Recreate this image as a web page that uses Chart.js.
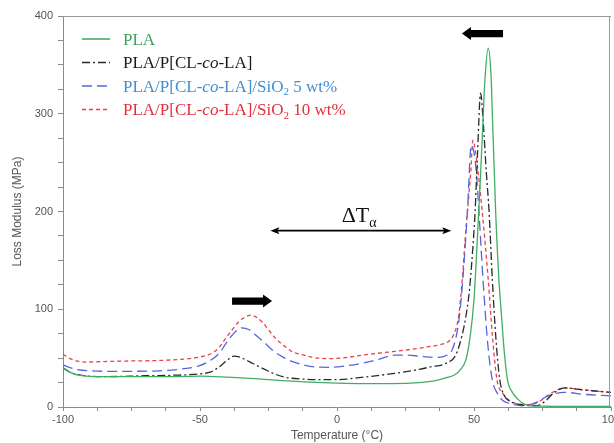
<!DOCTYPE html>
<html>
<head>
<meta charset="utf-8">
<script src="https://cdn.jsdelivr.net/npm/chart.js@4.4.1/dist/chart.umd.min.js"></script>
<style>
html,body{margin:0;padding:0;background:#fff;overflow:hidden;width:614px;height:443px;}
#wrap{position:absolute;left:0;top:0;width:640px;height:443px;}
</style>
</head>
<body>
<div id="wrap"><canvas id="c" width="640" height="443"></canvas></div>
<script>
// ---- data ----
const seriesNames = ["PLA", "PLA/P[CL-co-LA]", "PLA/P[CL-co-LA]/SiO2 5 wt%", "PLA/P[CL-co-LA]/SiO2 10 wt%"];

const plaT = [-100,-97,-93,-88,-80,-70,-60,-50,-40,-30,-20,-10,0,10,20,30,36,40,43,45,47,48.5,50,51,52,53,54,55.2,56.2,56.7,57.9,59.1,60,61,62.2,64,66.4,68,70,75,85,100];
const plaV = [40,35,32,31,31,31,31,31.5,30.5,29,27,25.5,24.5,24,24,25,27,30,33,38,48,70,110,160,215,275,335,367,340,300,200,130,95,58,28,15,7,3.5,1.5,0.8,0.5,0.5];

const blendT = [-100,-97,-92,-85,-70,-60,-50.4,-46,-43,-40,-37.6,-35,-32,-29,-26,-22,-18.7,-12,-5,0,9,21,30,34,40,43.3,45.7,47,48.2,49.5,50.4,51.3,52.4,53.4,54.5,55.5,56.7,58,59.4,61,63,66,70,73,76,79,83,90,100];
const blendV = [40,35,32,31,32,32.5,33.8,36,41,48,52,50.5,46.4,42,37.9,33,30.3,28.5,28,28,30.3,34.4,38.5,41,45,53,74,92,116,160,200,260,321,290,240,200,130,70,28,12,6,3,1.5,1.5,6,14,19.5,17.5,15];

const si5T = [-100,-96,-90,-80,-65,-55,-50.4,-46,-43,-40.5,-38.2,-34.8,-32,-29.7,-26.5,-23.6,-20,-16.3,-12,-9,-3,3,9,15,21,26,30,37,40,42,43.5,44.5,45.7,47.6,49,50.3,51,51.8,53.3,55,56.7,58.5,60.4,63,67,70,73,76,80,83,90,100];
const si5V = [43,39,37,36.5,37,39.5,42,48,55,65,73.7,81,79,73.7,66,58.3,51.5,46.4,43,41.2,40.6,42,44.7,48.5,53,53,52,50.8,53,58.3,72,89,123,200,268,255,235,200,130,65,27.6,14,7,3.5,1.5,2,5,10,14,15,13,11.3];

const si10T = [-100,-97,-92,-85,-77,-65,-53,-48,-45.6,-43,-40.6,-38,-35.8,-33.5,-31.5,-29.5,-27.3,-25,-22.4,-19,-16.3,-12,-9,-3,3,9,15,21.4,27,33.6,38,40.9,43.3,44.5,45.7,47,48.8,49.6,50.5,51.5,53,55.2,56.8,58.4,60.5,62.8,65.5,68,71,74,77,80,83,90,100];
const si10V = [54,49,46,46.5,47,47.6,49.8,52.5,55,61,70.4,80,87.3,92,94,92,87,79,70,62,56.6,53,50.8,49.5,50.5,53,55,57,59,61.7,64,67.5,79,95,130,180,240,273,262,240,200,130,70,27.6,14,7,3.5,2.5,2.7,6,12,17,19.5,17.5,14.7];

const xTickLabels = [-100, -50, 0, 50, 100];
const yTickLabels = [0, 100, 200, 300, 400];

// ---- styles ----
const colors = ["#3fae62", "#2a2a2a", "#5566dd", "#e8424c"];
const textColors = ["#3aa35e", "#1a1a1a", "#3f8fd2", "#e2303e"];
const dashes = [[], [8,3,2,3], [10,5], [4,3]];

function pts(T, V){ return T.map((t,i)=>({x:t, y:V[i]})); }
const allData = [pts(plaT,plaV), pts(blendT,blendV), pts(si5T,si5V), pts(si10T,si10V)];

const datasets = allData.map((d,i)=>({
  label: seriesNames[i],
  data: d,
  borderColor: colors[i],
  borderWidth: 1.3,
  borderDash: dashes[i],
  pointRadius: 0,
  fill: false,
  cubicInterpolationMode: 'monotone'
}));

// annotations in data units
const arrowTop = {from: 60.6, to: 45.6, y: 382};
const arrowMid = {from: -38.3, to: -23.7, y: 108.4};
const dTArrow = {from: -24.3, to: 41.7, y: 180.4};
const dTLabel = {x: 1.7, y: 189.6};

const SERIF = "'Liberation Serif','Times New Roman',serif";

function thickArrow(ctx, x1, x2, y){
  const dir = Math.sign(x2 - x1);
  const headLen = 9, bodyH = 3.6, headH = 6.5;
  const hb = x2 - dir*headLen;
  ctx.beginPath();
  ctx.moveTo(x1, y - bodyH);
  ctx.lineTo(hb, y - bodyH);
  ctx.lineTo(hb, y - headH);
  ctx.lineTo(x2, y);
  ctx.lineTo(hb, y + headH);
  ctx.lineTo(hb, y + bodyH);
  ctx.lineTo(x1, y + bodyH);
  ctx.closePath();
  ctx.fill();
}
function arrowHead(ctx, xTip, y, dir){
  ctx.beginPath();
  ctx.moveTo(xTip, y);
  ctx.lineTo(xTip - dir*9, y - 3.5);
  ctx.lineTo(xTip - dir*7, y);
  ctx.lineTo(xTip - dir*9, y + 3.5);
  ctx.closePath();
  ctx.fill();
}

function drawRich(ctx, x, y, parts, size, color){
  ctx.fillStyle = color;
  ctx.textBaseline = 'alphabetic';
  ctx.textAlign = 'left';
  let cx = x;
  for (const [txt, kind] of parts){
    if (kind === 'i'){ ctx.font = `italic ${size}px ${SERIF}`; ctx.fillText(txt, cx, y); }
    else if (kind === 's'){ ctx.font = `${Math.round(size*0.62)}px ${SERIF}`; ctx.fillText(txt, cx, y + size*0.22); }
    else { ctx.font = `${size}px ${SERIF}`; ctx.fillText(txt, cx, y); }
    cx += ctx.measureText(txt).width;
  }
}

const decor = {
  id: 'decor',
  afterDraw(chart){
    const ctx = chart.ctx, a = chart.chartArea;
    const xs = chart.scales.x, ys = chart.scales.y;
    ctx.save();
    // frame top/right
    ctx.strokeStyle = '#9a9a9a'; ctx.lineWidth = 1;
    ctx.beginPath();
    ctx.moveTo(a.left, a.top + 0.5); ctx.lineTo(a.right, a.top + 0.5);
    ctx.moveTo(a.right - 1.5, a.top); ctx.lineTo(a.right - 1.5, a.bottom);
    ctx.stroke();

    // legend
    const legX = a.left + 19, legLen = 28, textX = a.left + 60;
    const rowsY = [39, 62.5, 86, 109.5];
    const legendParts = [
      [["PLA", 'n']],
      [["PLA/P[CL-", 'n'], ["co", 'i'], ["-LA]", 'n']],
      [["PLA/P[CL-", 'n'], ["co", 'i'], ["-LA]/SiO", 'n'], ["2", 's'], [" 5 wt%", 'n']],
      [["PLA/P[CL-", 'n'], ["co", 'i'], ["-LA]/SiO", 'n'], ["2", 's'], [" 10 wt%", 'n']]
    ];
    rowsY.forEach((ry, i)=>{
      ctx.strokeStyle = colors[i]; ctx.lineWidth = 1.6;
      ctx.setLineDash(dashes[i]);
      ctx.beginPath(); ctx.moveTo(legX, ry); ctx.lineTo(legX + legLen, ry); ctx.stroke();
      ctx.setLineDash([]);
      drawRich(ctx, textX, ry + 5.5, legendParts[i], 17, textColors[i]);
    });

    // thick arrows
    ctx.fillStyle = '#000';
    thickArrow(ctx, xs.getPixelForValue(arrowTop.from), xs.getPixelForValue(arrowTop.to), ys.getPixelForValue(arrowTop.y));
    thickArrow(ctx, xs.getPixelForValue(arrowMid.from), xs.getPixelForValue(arrowMid.to), ys.getPixelForValue(arrowMid.y));

    // double arrow
    const dx1 = xs.getPixelForValue(dTArrow.from), dx2 = xs.getPixelForValue(dTArrow.to), dy = ys.getPixelForValue(dTArrow.y);
    ctx.strokeStyle = '#000'; ctx.lineWidth = 1.8;
    ctx.beginPath(); ctx.moveTo(dx1 + 4, dy); ctx.lineTo(dx2 - 4, dy); ctx.stroke();
    arrowHead(ctx, dx1, dy, -1);
    arrowHead(ctx, dx2, dy, 1);

    // delta T alpha label
    drawRich(ctx, xs.getPixelForValue(dTLabel.x), ys.getPixelForValue(dTLabel.y), [["\u0394T", 'n'], ["\u03b1", 's']], 22, '#111');
    ctx.restore();
  }
};

new Chart(document.getElementById('c'), {
  type: 'line',
  data: { datasets },
  options: {
    responsive: false,
    animation: false,
    devicePixelRatio: 1,
    layout: { padding: { left: 6, right: 29, top: 16, bottom: 0 } },
    plugins: { legend: { display: false }, tooltip: { enabled: false } },
    scales: {
      x: {
        type: 'linear', min: -100, max: 100,
        afterFit(s){ s.height = 36; },
        ticks: {
          stepSize: 12.5, autoSkip: false, maxRotation: 0, padding: 2,
          color: '#555', font: { family: "'Liberation Sans', Arial, sans-serif", size: 11 },
          callback: v => xTickLabels.includes(v) ? String(v) : ''
        },
        grid: { drawOnChartArea: false, drawTicks: true, tickLength: 4, color: '#8a8a8a' },
        border: { color: '#8a8a8a', width: 1 },
        title: { display: true, text: 'Temperature (°C)', color: '#555', padding: { top: 2, bottom: 0 },
                 font: { family: "'Liberation Sans', Arial, sans-serif", size: 12 } }
      },
      y: {
        min: 0, max: 400,
        afterFit(s){ s.width = 57; },
        ticks: {
          stepSize: 25, autoSkip: false, padding: 5,
          color: '#555', font: { family: "'Liberation Sans', Arial, sans-serif", size: 11 },
          callback: v => yTickLabels.includes(v) ? String(v) : ''
        },
        grid: { drawOnChartArea: false, drawTicks: true, tickLength: 5, color: '#8a8a8a' },
        border: { color: '#8a8a8a', width: 1 },
        title: { display: true, text: 'Loss Modulus (MPa)', color: '#555', padding: { top: 4, bottom: 2 },
                 font: { family: "'Liberation Sans', Arial, sans-serif", size: 12 } }
      }
    }
  },
  plugins: [decor]
});
</script>
</body>
</html>
